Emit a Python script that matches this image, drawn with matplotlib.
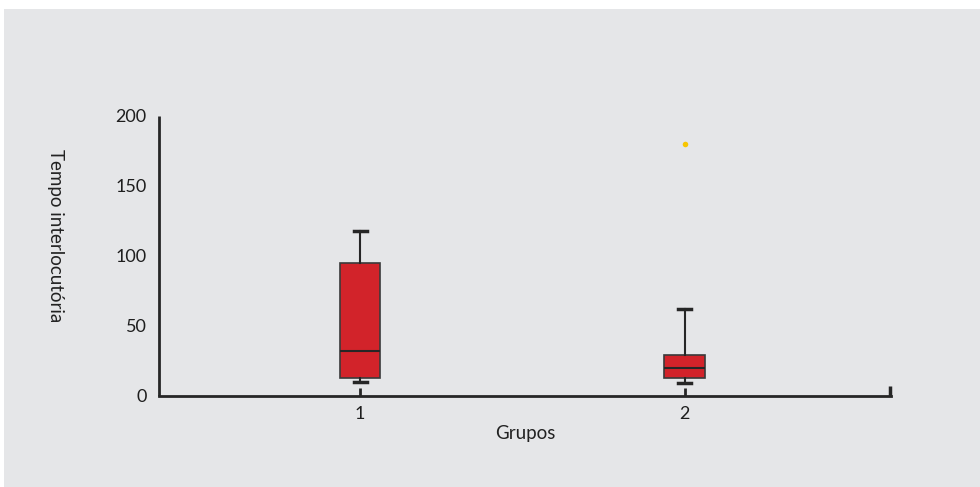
import matplotlib.pyplot as plt
from matplotlib.patches import Rectangle

groups = ["1", "2"]
positions = [1, 2]
whis_low = [9.8, 9.0]
q1 = [12.8, 12.6]
median = [32.4, 20.2]
q3 = [95.0, 29.3]
whis_high = [118.0, 62.0]
outliers = [[], [180.0]]

y_ticks = [0, 50, 100, 150, 200]

BG = "#e5e6e8"
RED = "#d2232a"
DARK = "#262626"

plt.rcParams["font.family"] = ["Lato", "DejaVu Sans"]

fig = plt.figure(figsize=(9.8, 4.87), dpi=100)
fig.patch.set_facecolor("white")
fig.patches.append(Rectangle((4 / 980, 0), 1, 1 - 9 / 487, transform=fig.transFigure,
                             facecolor=BG, edgecolor="none", zorder=-10))

ax = fig.add_axes([159 / 980, (487 - 396) / 487, (890.7 - 159) / 980, 280 / 487])
ax.set_facecolor("none")

stats = []
for i in range(len(groups)):
    stats.append({"whislo": whis_low[i], "q1": q1[i], "med": median[i], "q3": q3[i],
                  "whishi": whis_high[i], "fliers": outliers[i], "label": groups[i]})

ax.bxp(stats, positions=positions, widths=0.126, patch_artist=True,
       boxprops=dict(facecolor=RED, edgecolor="#3a3a3a", linewidth=1.2),
       medianprops=dict(color=DARK, linewidth=1.5),
       whiskerprops=dict(color=DARK, linewidth=1.5),
       capprops=dict(color=DARK, linewidth=2.5),
       capwidths=0.04,
       flierprops=dict(marker="o", markersize=4, markerfacecolor="#f7c600",
                       markeredgecolor="none"))

ax.set_xlim(0.381, 2.634)
ax.set_ylim(0, 200)
ax.set_yticks(y_ticks)
ax.set_xticks(positions)
ax.set_xticklabels(groups)
ax.set_xticks([2.632], minor=True)
ax.tick_params(axis="y", length=0, labelsize=13, colors="#1e1e1e", pad=9)
ax.tick_params(axis="x", which="major", direction="in", length=6, width=2,
               color=DARK, labelsize=13, labelcolor="#1e1e1e", pad=7)
ax.tick_params(axis="x", which="minor", direction="in", length=7, width=2.5, color=DARK)

for side in ["top", "right"]:
    ax.spines[side].set_visible(False)
for side in ["left", "bottom"]:
    ax.spines[side].set_linewidth(2)
    ax.spines[side].set_color(DARK)
ax.spines["left"].set_capstyle("butt")

fig.text(525 / 980, 1 - 433 / 487, "Grupos", ha="center", va="center",
         fontsize=13.5, color="#222222")
fig.text(55 / 980, 1 - 236 / 487, "Tempo interlocutória", ha="center", va="center",
         rotation=270, fontsize=13.5, color="#222222")

fig.savefig("out.png", dpi=100)
